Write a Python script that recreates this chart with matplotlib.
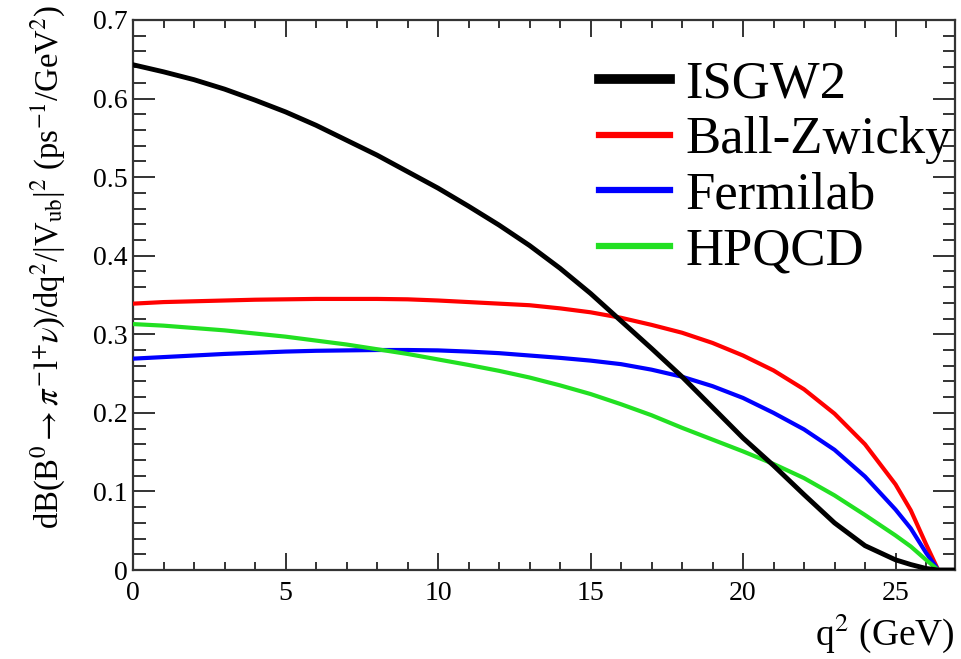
import matplotlib
matplotlib.use('Agg')
import matplotlib.pyplot as plt
from matplotlib.ticker import MultipleLocator

plt.rcParams['font.family'] = ['Liberation Serif', 'DejaVu Serif']
plt.rcParams['mathtext.fontset'] = 'stix'

# q^2 grid (GeV^2) and curves
q2 = [0, 1, 2, 3, 4, 5, 6, 7, 8, 9, 10, 11, 12, 13, 14, 15, 16, 17, 18, 19, 20,
      21, 22, 23, 24, 25, 25.5, 26, 26.4, 26.95]
isgw2 = [0.643, 0.634, 0.624, 0.612, 0.598, 0.583, 0.566, 0.547, 0.528, 0.507, 0.486,
         0.463, 0.439, 0.413, 0.384, 0.352, 0.317, 0.282, 0.246, 0.207, 0.168,
         0.133, 0.096, 0.060, 0.031, 0.013, 0.007, 0.002, 0.0, 0.0]
ball_zwicky = [0.339, 0.341, 0.342, 0.343, 0.344, 0.3445, 0.345, 0.345, 0.345, 0.3445, 0.343,
               0.341, 0.339, 0.337, 0.333, 0.328, 0.321, 0.312, 0.302, 0.289, 0.273,
               0.254, 0.230, 0.199, 0.160, 0.109, 0.076, 0.033, 0.0, 0.0]
fermilab = [0.269, 0.271, 0.273, 0.275, 0.2765, 0.278, 0.279, 0.2795, 0.280, 0.280, 0.2795,
            0.278, 0.276, 0.273, 0.270, 0.2665, 0.262, 0.255, 0.246, 0.234, 0.219,
            0.200, 0.179, 0.153, 0.119, 0.077, 0.053, 0.022, 0.0, 0.0]
hpqcd = [0.313, 0.311, 0.308, 0.305, 0.301, 0.297, 0.292, 0.287, 0.281, 0.275, 0.268,
         0.261, 0.2535, 0.245, 0.235, 0.224, 0.211, 0.197, 0.181, 0.166, 0.151,
         0.135, 0.117, 0.095, 0.070, 0.044, 0.030, 0.013, 0.0, 0.0]

fig = plt.figure(figsize=(9.62, 6.59), dpi=100)
ax = fig.add_axes([0.1383, 0.135, 0.8544, 0.8347])

ax.plot(q2, ball_zwicky, color='#ff0000', lw=3.0, label='Ball-Zwicky', zorder=3)
ax.plot(q2, fermilab, color='#0000ff', lw=3.0, label='Fermilab', zorder=3)
ax.plot(q2, hpqcd, color='#22e022', lw=3.0, label='HPQCD', zorder=3)
ax.plot(q2, isgw2, color='black', lw=3.5, label='ISGW2', zorder=4)

ax.set_xlim(0, 26.95)
ax.set_ylim(0, 0.7)
ax.xaxis.set_major_locator(MultipleLocator(5))
ax.xaxis.set_minor_locator(MultipleLocator(1))
ax.yaxis.set_major_locator(MultipleLocator(0.1))
ax.yaxis.set_minor_locator(MultipleLocator(0.02))
ax.xaxis.set_major_formatter(plt.FuncFormatter(lambda v, p: '%g' % v))
ax.yaxis.set_major_formatter(plt.FuncFormatter(lambda v, p: '%g' % round(v, 2)))

ax.tick_params(axis='both', which='both', direction='in', top=True, right=True,
               colors='#333333', labelcolor='black', width=1.4)
ax.tick_params(axis='x', which='major', length=12, labelsize=20, pad=8)
ax.tick_params(axis='x', which='minor', length=6)
ax.tick_params(axis='y', which='major', length=16, labelsize=20, pad=4)
ax.tick_params(axis='y', which='minor', length=9)
for s in ax.spines.values():
    s.set_color('#333333')
    s.set_linewidth(1.6)

ax.set_xlabel(r'q$^{2}$ (GeV)', fontsize=27, loc='right', labelpad=4)
ax.set_ylabel(r'dB(B$^{0}$$\rightarrow$$\pi^{-}$l$^{+}$$\nu$)/dq$^{2}$/|V$_{\rm ub}$|$^{2}$ (ps$^{-1}$/GeV$^{2}$)',
              fontsize=23.5, loc='top')
ax.yaxis.set_label_coords(-0.08, 1.027)

handles, labels = ax.get_legend_handles_labels()
order = [3, 0, 1, 2]
leg = ax.legend([handles[i] for i in order], [labels[i] for i in order],
                loc='upper left', bbox_to_anchor=(0.567, 0.927), frameon=False,
                fontsize=38, handlelength=1.35, handletextpad=0.28,
                labelspacing=0.15, borderpad=0, borderaxespad=0)
for i, line in enumerate(leg.get_lines()):
    line.set_linewidth(7 if i == 0 else 4.5)

fig.savefig('out.png', dpi=100)
